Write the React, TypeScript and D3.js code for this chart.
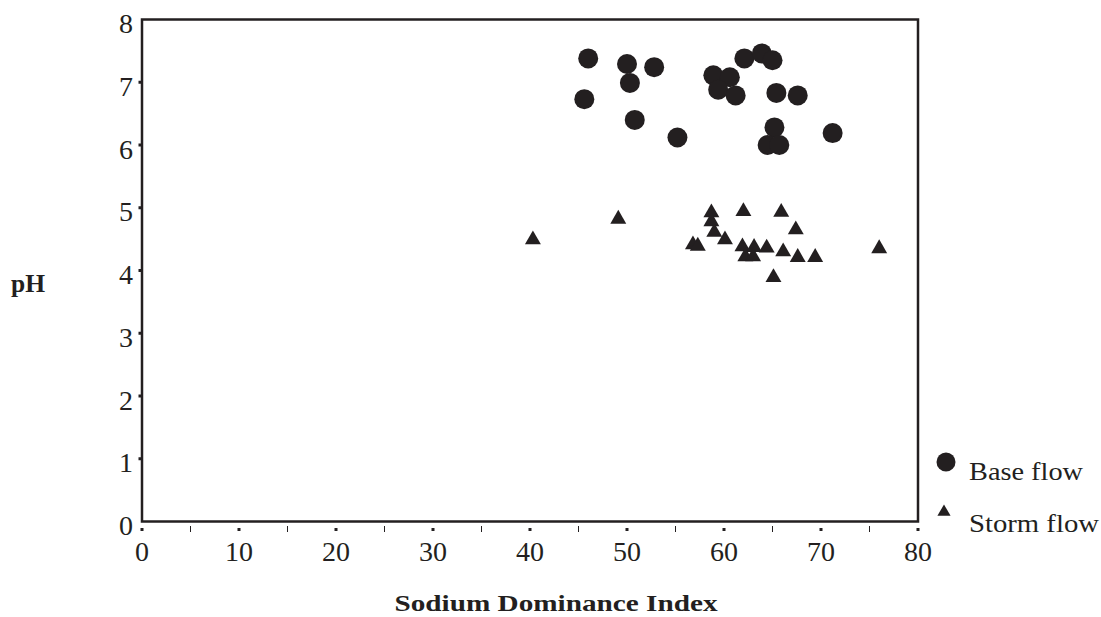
import React from "react";
import * as d3 from "d3";

// Base flow samples: [sodium dominance index, pH]
const baseX = [46.0, 50.0, 52.8, 50.3, 45.6, 50.8, 55.2, 58.9, 60.6, 59.4, 61.2, 62.1, 63.9, 65.0, 65.4, 67.6, 65.2, 64.5, 65.7, 71.2];
const baseY = [7.38, 7.29, 7.24, 6.99, 6.73, 6.40, 6.12, 7.11, 7.08, 6.88, 6.79, 7.38, 7.46, 7.35, 6.83, 6.79, 6.28, 6.00, 6.00, 6.19];

// Storm flow samples
const stormX = [40.3, 49.1, 58.7, 58.7, 59.0, 60.1, 56.8, 57.3, 62.0, 65.9, 67.4, 61.9, 63.1, 64.4, 62.2, 63.0, 66.1, 67.6, 69.4, 65.1, 76.0];
const stormY = [4.49, 4.82, 4.92, 4.78, 4.61, 4.49, 4.41, 4.39, 4.94, 4.93, 4.65, 4.38, 4.37, 4.36, 4.22, 4.22, 4.30, 4.21, 4.21, 3.89, 4.35];

const xTicks = [0, 10, 20, 30, 40, 50, 60, 70, 80];
const xMinor = [5, 15, 25, 35, 45, 55, 65, 75];
const yTicks = [0, 1, 2, 3, 4, 5, 6, 7, 8];

const ink = "#231f20";
const serif = "'Liberation Serif', 'Times New Roman', serif";

export default function App() {
  const x = d3.scaleLinear().domain([0, 80]).range([142, 918]);
  const y = d3.scaleLinear().domain([0, 8]).range([521.5, 19.5]);

  const tri = d3.symbol().type(d3.symbolTriangle).size(110)();
  const triSmall = d3.symbol().type(d3.symbolTriangle).size(75)();

  return (
    <svg width={1101} height={617} style={{ position: "absolute", left: 0, top: 0, background: "#fff", overflow: "hidden" }}>
      {/* frame */}
      <rect x={x(0)} y={y(8)} width={x(80) - x(0)} height={y(0) - y(8)} fill="none" stroke={ink} strokeWidth={2.5} />

      {/* x ticks */}
      {xTicks.map((t) => (
        <g key={"xt" + t}>
          <rect x={x(t) - 1.5} y={528} width={3} height={3} fill={ink} />
          <text x={x(t)} y={561} textAnchor="middle" fontFamily={serif} fontSize={28} fill={ink}>{t}</text>
        </g>
      ))}
      {xMinor.map((t) => (
        <line key={"xm" + t} x1={x(t)} x2={x(t)} y1={526} y2={532} stroke={ink} strokeWidth={1} />
      ))}

      {/* y ticks */}
      {yTicks.map((t) => (
        <g key={"yt" + t}>
          {t > 0 && t < 8 && <rect x={138.5} y={y(t) - 1.5} width={3} height={3} fill={ink} />}
          <text x={133} y={y(t) + 13.5} textAnchor="end" fontFamily={serif} fontSize={28} fill={ink}>{t}</text>
        </g>
      ))}

      {/* data */}
      {baseX.map((v, i) => (
        <circle key={"b" + i} cx={x(v)} cy={y(baseY[i])} r={10} fill={ink} />
      ))}
      {stormX.map((v, i) => (
        <path key={"s" + i} d={tri} transform={`translate(${x(v)},${y(stormY[i])})`} fill={ink} />
      ))}

      {/* axis titles */}
      <text x={28} y={292} textAnchor="middle" fontFamily={serif} fontWeight="bold" fontSize={25} fill={ink} textLength={34} lengthAdjust="spacingAndGlyphs">pH</text>
      <text x={556} y={611} textAnchor="middle" fontFamily={serif} fontWeight="bold" fontSize={24} fill={ink} textLength={323} lengthAdjust="spacingAndGlyphs">Sodium Dominance Index</text>

      {/* legend */}
      <circle cx={946} cy={462} r={9.5} fill={ink} />
      <text x={969} y={480} fontFamily={serif} fontSize={25} fill={ink} textLength={114} lengthAdjust="spacingAndGlyphs">Base flow</text>
      <path d={triSmall} transform="translate(944,512)" fill={ink} />
      <text x={969} y={532} fontFamily={serif} fontSize={25} fill={ink} textLength={130} lengthAdjust="spacingAndGlyphs">Storm flow</text>
    </svg>
  );
}
